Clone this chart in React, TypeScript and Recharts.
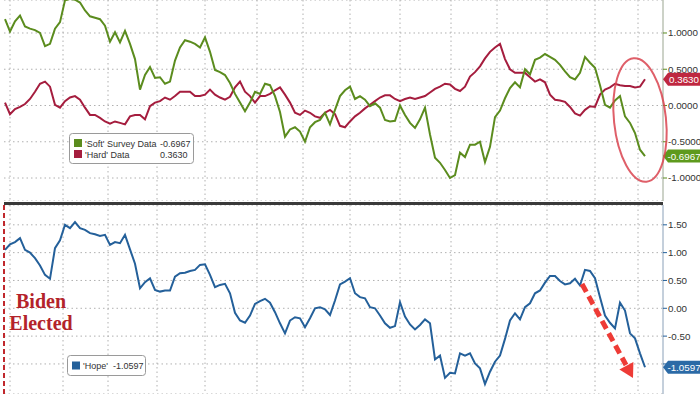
import React from "react";
import {
  CartesianGrid,
  Line,
  LineChart,
  ReferenceLine,
  XAxis,
  YAxis,
} from "recharts";

// weekly-ish samples, Biden election -> today
const softSurvey = [
  1.19, 1.02, 1.16, 1.24, 1.09, 1.06, 1.04, 1.0, 0.82, 0.85,
  1.06, 1.15, 1.45, 1.47, 1.46, 1.42, 1.31, 1.23, 1.21, 1.19,
  1.1, 0.88, 1.01, 0.87, 1.03, 0.85, 0.64, 0.22, 0.42, 0.53,
  0.38, 0.39, 0.3, 0.33, 0.62, 0.8, 0.9, 0.88, 0.85, 0.8,
  0.94, 0.74, 0.49, 0.46, 0.42, 0.31, 0.16, 0.04, -0.08, 0.04,
  0.19, 0.16, 0.3, 0.28, 0.13, -0.09, -0.43, -0.33, -0.3, -0.36,
  -0.5, -0.3, -0.23, -0.2, -0.1, -0.26, -0.06, 0.13, 0.21, 0.26,
  0.09, 0.13, 0.08, -0.01, 0.03, -0.03, -0.2, -0.22, -0.21, 0.0,
  -0.13, -0.24, -0.31, -0.19, -0.03, -0.4, -0.72, -0.79, -0.89, -1.0,
  -0.96, -0.65, -0.71, -0.54, -0.54, -0.5, -0.78, -0.57, -0.16, -0.07,
  0.1, 0.24, 0.32, 0.25, 0.5, 0.43, 0.63, 0.66, 0.71, 0.67,
  0.63, 0.56, 0.47, 0.39, 0.36, 0.45, 0.67, 0.59, 0.52, 0.28,
  0.01, -0.03, 0.07, 0.13, -0.15, -0.24, -0.38, -0.61, -0.6967,
];

const hardData = [
  0.04, -0.12, -0.05, -0.02, 0.02, 0.09, 0.19, 0.3, 0.33, 0.26,
  0.01, -0.03, 0.06, 0.11, 0.13, 0.08, -0.03, -0.13, -0.13, -0.17,
  -0.22, -0.25, -0.22, -0.24, -0.26, -0.15, -0.13, -0.13, -0.19, -0.01,
  0.04, 0.06, 0.11, 0.08, 0.13, 0.19, 0.19, 0.19, 0.13, 0.13,
  0.15, 0.22, 0.15, 0.11, 0.08, 0.12, 0.25, 0.33, 0.19, 0.13,
  0.04, 0.13, 0.13, 0.16, 0.21, 0.25, 0.15, 0.04, -0.1, -0.13,
  -0.07, -0.1, -0.15, -0.17, -0.1, -0.06, -0.12, -0.28, -0.3, -0.22,
  -0.15, -0.1, -0.04, 0.01, 0.06, 0.11, 0.14, 0.14, 0.09, 0.06,
  0.09, 0.11, 0.09, 0.11, 0.13, 0.18, 0.23, 0.26, 0.3, 0.29,
  0.23, 0.2, 0.26, 0.4, 0.46, 0.54, 0.65, 0.74, 0.8, 0.85,
  0.64, 0.5, 0.45, 0.45, 0.45, 0.39, 0.33, 0.36, 0.32, 0.15,
  0.08, 0.07, 0.05, -0.02, -0.11, -0.14, -0.06, -0.01, -0.02, 0.15,
  0.22, 0.25, 0.3, 0.28, 0.27, 0.27, 0.25, 0.26, 0.363,
];

const hope = [
  1.05, 1.15, 1.19, 1.26, 1.05, 1.0, 0.9, 0.77, 0.6, 0.53,
  1.08, 1.22, 1.5, 1.44, 1.55, 1.44, 1.41, 1.35, 1.33, 1.3,
  1.32, 1.14, 1.19, 1.17, 1.32, 1.06, 0.8, 0.36, 0.47, 0.54,
  0.33, 0.3, 0.32, 0.32, 0.57, 0.63, 0.64, 0.67, 0.69, 0.78,
  0.79, 0.6, 0.38, 0.42, 0.44, 0.27, -0.08, -0.22, -0.26, -0.13,
  0.08, 0.13, 0.17, 0.1, -0.07, -0.27, -0.45, -0.22, -0.16, -0.18,
  -0.34, -0.18, 0.0, 0.02, -0.02, -0.12, 0.14, 0.43, 0.48, 0.54,
  0.27, 0.2, 0.18, 0.02, 0.0, -0.13, -0.27, -0.35, -0.32, 0.11,
  -0.15, -0.29, -0.38, -0.3, -0.2, -0.27, -0.92, -0.85, -1.25, -1.16,
  -1.17, -0.81, -0.85, -0.81, -0.99, -1.08, -1.36, -1.14, -0.96, -0.85,
  -0.55, -0.22, -0.09, -0.2, 0.02, 0.09, 0.27, 0.32, 0.46, 0.58,
  0.58, 0.49, 0.43, 0.45, 0.53, 0.41, 0.69, 0.67, 0.54, 0.2,
  -0.13, -0.26, -0.36, 0.1, -0.04, -0.45, -0.54, -0.81, -1.0597,
];

// vertical gridlines (sample index)
const periodTicks = [1, 11.6, 20.6, 30.4, 40, 50.4, 59.6, 69, 79, 89.2, 98.4, 108.4, 118, 126.6];
const topTicks = [-1, -0.5, 0, 0.5, 1];
const bottomTicks = [-1.5, -1, -0.5, 0, 0.5, 1, 1.5];

const ELECTION_IDX = -0.2;
const X_DOMAIN: [number, number] = [ELECTION_IDX, 131.6];
const TOP_DOMAIN: [number, number] = [-1.317, 1.455];
const BOTTOM_DOMAIN: [number, number] = [-1.54, 1.856];

const GREEN = "#5b8c1e";
const RED = "#a51d3e";
const BLUE = "#24609a";
const SANS = "'Liberation Sans', Arial, sans-serif";

const topData = softSurvey.map((v, i) => ({ i, soft: v, hard: hardData[i] }));
const bottomData = hope.map((v, i) => ({ i, hope: v }));

const lastSoft = softSurvey[softSurvey.length - 1];
const lastHard = hardData[hardData.length - 1];
const lastHope = hope[hope.length - 1];

const EndBadge = (props: any) => {
  const { viewBox, text, fill } = props;
  if (!viewBox) return null;
  const x = viewBox.x + viewBox.width;
  const y = viewBox.y;
  return (
    <g>
      <path
        d={`M${x} ${y} L${x + 5} ${y - 6.5} H${x + 37} V${y + 6.5} H${x + 5} Z`}
        fill={fill}
      />
      <text x={x + 21} y={y + 3.5} textAnchor="middle" fill="#fff" fontSize={9.8} fontFamily={SANS}>
        {text}
      </text>
    </g>
  );
};

const ElectionLabel = (props: any) => {
  const { viewBox } = props;
  if (!viewBox) return null;
  const cx = viewBox.x + 37;
  return (
    <g fill="#b3232a" fontFamily="'Liberation Serif', 'Times New Roman', serif" fontWeight="bold" fontSize={20}>
      <text x={cx} y={viewBox.y + 103} textAnchor="middle">Biden</text>
      <text x={cx} y={viewBox.y + 125} textAnchor="middle">Elected</text>
    </g>
  );
};

// vertical gridlines at the period ticks, placed through the x scale
const periodLines = ({ xAxis, offset }: any) => {
  if (xAxis && typeof xAxis.scale === "function") {
    return periodTicks.map((t) => xAxis.scale(t));
  }
  const left = offset.left;
  const w = offset.width;
  return periodTicks.map((t) => left + ((t - X_DOMAIN[0]) / (X_DOMAIN[1] - X_DOMAIN[0])) * w);
};

const gridProps = {
  stroke: "#b0b0b0",
  strokeDasharray: "1.5 3",
  verticalCoordinatesGenerator: periodLines,
  syncWithTicks: false,
};

const App: React.FC = () => {
  return (
    <div style={{ position: "absolute", left: 0, top: 0, width: 700, height: 394, background: "#fff" }}>
      <LineChart
        width={700}
        height={201}
        data={topData}
        margin={{ top: 0, right: 0, bottom: 0, left: 4 }}
        style={{ position: "absolute", left: 0, top: 0 }}
      >
        <CartesianGrid {...gridProps} />
        <XAxis dataKey="i" type="number" domain={X_DOMAIN} allowDataOverflow hide />
        <YAxis
          orientation="right"
          width={37}
          domain={TOP_DOMAIN}
          ticks={topTicks}
          allowDataOverflow
          tickFormatter={(v: number) => v.toFixed(4)}
          tick={{ fill: "#333", fontSize: 9.8, fontFamily: SANS }}
          tickSize={4}
          tickMargin={1}
          tickLine={{ stroke: GREEN }}
          axisLine={{ stroke: "#9aa590" }}
        />
        <Line dataKey="hard" stroke={RED} strokeWidth={2} dot={false} isAnimationActive={false} />
        <Line dataKey="soft" stroke={GREEN} strokeWidth={2} dot={false} isAnimationActive={false} />
      </LineChart>

      {/* last-value badges drawn above the tick labels */}
      <LineChart
        width={700}
        height={201}
        data={topData}
        margin={{ top: 0, right: 37, bottom: 0, left: 4 }}
        style={{ position: "absolute", left: 0, top: 0 }}
      >
        <XAxis dataKey="i" type="number" domain={X_DOMAIN} hide />
        <YAxis domain={TOP_DOMAIN} allowDataOverflow hide />
        <ReferenceLine
          y={lastHard}
          stroke="none"
          ifOverflow="visible"
          label={<EndBadge text={lastHard.toFixed(4)} fill="#bf2740" />}
        />
        <ReferenceLine
          y={lastSoft}
          stroke="none"
          ifOverflow="visible"
          label={<EndBadge text={lastSoft.toFixed(4)} fill="#5e9a1d" />}
        />
      </LineChart>

      <div style={{ position: "absolute", left: 4, top: 202, width: 659, height: 3, background: "#3a3a3a" }} />

      <LineChart
        width={700}
        height={189}
        data={bottomData}
        margin={{ top: 0, right: 0, bottom: 0, left: 4 }}
        style={{ position: "absolute", left: 0, top: 205 }}
      >
        <CartesianGrid {...gridProps} />
        <XAxis dataKey="i" type="number" domain={X_DOMAIN} allowDataOverflow hide />
        <YAxis
          orientation="right"
          width={37}
          domain={BOTTOM_DOMAIN}
          ticks={bottomTicks}
          allowDataOverflow
          tickFormatter={(v: number) => v.toFixed(2)}
          tick={{ fill: "#333", fontSize: 9.8, fontFamily: SANS }}
          tickSize={4}
          tickMargin={1}
          tickLine={{ stroke: BLUE }}
          axisLine={{ stroke: "#8aa0b8" }}
        />
        <ReferenceLine
          x={ELECTION_IDX}
          stroke="#c0282d"
          strokeWidth={2}
          strokeDasharray="5 3"
          ifOverflow="visible"
          label={<ElectionLabel />}
        />
        <Line dataKey="hope" stroke={BLUE} strokeWidth={2} dot={false} isAnimationActive={false} />
      </LineChart>

      <LineChart
        width={700}
        height={189}
        data={bottomData}
        margin={{ top: 0, right: 37, bottom: 0, left: 4 }}
        style={{ position: "absolute", left: 0, top: 205 }}
      >
        <XAxis dataKey="i" type="number" domain={X_DOMAIN} hide />
        <YAxis domain={BOTTOM_DOMAIN} allowDataOverflow hide />
        <ReferenceLine
          y={lastHope}
          stroke="none"
          ifOverflow="visible"
          label={<EndBadge text={lastHope.toFixed(4)} fill="#2b6aa6" />}
        />
      </LineChart>

      {/* legends + annotations */}
      <svg width={700} height={394} style={{ position: "absolute", left: 0, top: 0, pointerEvents: "none" }}>
        <g fontFamily={SANS} fontSize={9} fill="#333">
          <rect x={69.5} y={133.5} width={124} height={30} rx={3} fill="#fff" stroke="#9a9a9a" />
          <rect x={74} y={139} width={8} height={8} fill={GREEN} />
          <text x={85} y={147}>'Soft' Survey Data</text>
          <text x={160} y={147}>{lastSoft.toFixed(4)}</text>
          <rect x={74} y={150} width={8} height={8} fill={RED} />
          <text x={85} y={158}>'Hard' Data</text>
          <text x={160} y={158}>{lastHard.toFixed(4)}</text>

          <rect x={67.5} y={355.5} width={78} height={20} rx={3} fill="#fff" stroke="#9a9a9a" />
          <rect x={72} y={361.5} width={8} height={8} fill={BLUE} />
          <text x={83} y={369}>'Hope'</text>
          <text x={113} y={369}>{lastHope.toFixed(4)}</text>
        </g>

        <ellipse
          cx={640}
          cy={120}
          rx={26}
          ry={62}
          transform="rotate(-6 640 120)"
          fill="none"
          stroke="#d9434f"
          strokeOpacity={0.85}
          strokeWidth={2}
        />

        <line x1={582} y1={284} x2={626} y2={365} stroke="#ee3b36" strokeWidth={5} strokeDasharray="9 5" />
        <polygon points="633,378 619.4,369.5 633.4,361.9" fill="#ee3b36" />
      </svg>
    </div>
  );
};

export default App;
